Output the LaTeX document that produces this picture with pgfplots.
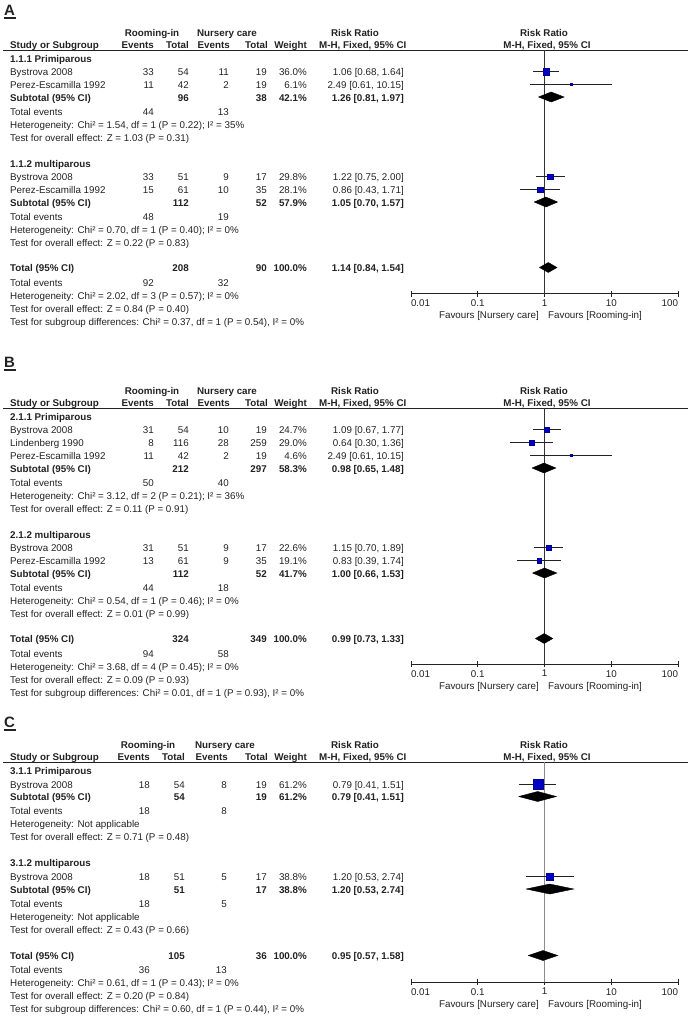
\documentclass[border=0pt]{standalone}
\usepackage{pgfplots}
\pgfplotsset{compat=1.18}
\usepackage{fontspec}
\setmainfont{Liberation Sans}
\definecolor{txt}{HTML}{222222}
\definecolor{sq}{HTML}{0000C4}
\newcommand\fs{\fontsize{9.8pt}{11pt}\selectfont}
\newcommand\TL[3]{\node[anchor=base west] at ({(#1)*1pt},{-(#2+4)*1pt}) {#3};}
\newcommand\TR[3]{\node[anchor=base east] at ({(#1)*1pt},{-(#2+4)*1pt}) {#3};}
\newcommand\TC[3]{\node[anchor=base] at ({(#1)*1pt},{-(#2+4)*1pt}) {#3};}
\def\cS{10}\def\cEa{154}\def\cTa{189}\def\cEb{229}\def\cTb{267}\def\cW{307}\def\cR{404}\def\cRm{152}\def\cNc{227}
\newcommand\Study[8]{\TL{\cS}{#1}{#2}\TR{\cEa}{#1}{#3}\TR{\cTa}{#1}{#4}\TR{\cEb}{#1}{#5}\TR{\cTb}{#1}{#6}\TR{\cW}{#1}{#7}\TR{\cR}{#1}{#8}}
\newcommand\Sub[6]{\TL{\cS}{#1}{\bfseries #2}\TR{\cTa}{#1}{\bfseries #3}\TR{\cTb}{#1}{\bfseries #4}\TR{\cW}{#1}{\bfseries #5}\TR{\cR}{#1}{\bfseries #6}}
\newcommand\TE[3]{\TL{\cS}{#1}{Total events}\TR{\cEa}{#1}{#2}\TR{\cEb}{#1}{#3}}
\newcommand\Head[1]{%
  \TC{\cRm}{#1-18}{\bfseries Rooming-in}\TC{\cNc}{#1-18}{\bfseries Nursery care}%
  \TC{355}{#1-18}{\bfseries Risk Ratio}\TC{544}{#1-18}{\bfseries Risk Ratio}%
  \TL{\cS}{#1-5.5}{\bfseries Study or Subgroup}\TR{\cEa}{#1-5.5}{\bfseries Events}%
  \TR{\cTa}{#1-5.5}{\bfseries Total}\TR{\cEb+1}{#1-5.5}{\bfseries Events}%
  \TR{\cTb+1}{#1-5.5}{\bfseries Total}\TR{\cW}{#1-5.5}{\bfseries Weight}%
  \TL{319}{#1-5.5}{\bfseries M-H, Fixed, 95\% CI}\TC{547}{#1-5.5}{\bfseries M-H, Fixed, 95\% CI}%
  \draw[txt, line width=0.8pt] (3pt,-#1pt) -- (688pt,-#1pt);}
\newcommand\Fav[1]{\node[anchor=base east] at (539pt,{-(#1+4)*1pt}) {Favours [Nursery care]};
  \node[anchor=base west] at (548pt,{-(#1+4)*1pt}) {Favours [Rooming-in]};}
\newcommand\Letter[2]{\node[anchor=base west, font=\fontsize{15pt}{17pt}\selectfont\bfseries] at (4pt,{-(#2+5.4)*1pt}) {#1};
  \draw[txt, line width=1.4pt] (4pt,{-(#2+8)*1pt}) -- (15.5pt,{-(#2+8)*1pt});}
\newcommand\Mk[5]{%
  \addplot[txt, line width=0.8pt] coordinates {(#3,-#1) (#4,-#1)};
  \addplot[only marks, mark=square*, mark size=#5pt, mark options={fill=sq, draw=sq!75!black, line width=0.3pt}] coordinates {(#2,-#1)};}
\newcommand\Dm[6]{%
  \addplot[fill=black, draw=black, line width=0.4pt] coordinates {(#2,-#5) (#1,-#4) (#3,-#5) (#1,-#6) (#2,-#5)};}
\pgfplotsset{every axis/.append style={
  scale only axis, width=267pt, xmode=log, xmin=0.01, xmax=100,
  axis x line=bottom, axis y line=none, x axis line style={-},
  axis line style={txt, line width=0.8pt},
  xtick={0.01,0.1,1,10,100},
  xticklabels={{\makebox[0pt][l]{0.01}},0.1,1,10,{\makebox[0pt][r]{100}}},
  xminorticks=false, tick align=center, major tick length=6pt,
  every tick/.style={txt, line width=0.8pt},
  xticklabel style={font=\fs, text=txt, anchor=north, inner sep=0pt, yshift=-3pt},
  clip=false, anchor=south west}}
\begin{document}
\begin{tikzpicture}[every node/.style={font=\fs, text=txt, inner sep=0pt}]
\useasboundingbox (0,0) rectangle (688pt,-1020pt);
% ================= A =================
\Letter{A}{10}
\Head{50}
\TL{\cS}{58}{\bfseries 1.1.1 Primiparous}
\Study{71.5}{Bystrova 2008}{33}{54}{11}{19}{36.0\%}{1.06 [0.68, 1.64]}
\Study{84.5}{Perez-Escamilla 1992}{11}{42}{2}{19}{6.1\%}{2.49 [0.61, 10.15]}
\Sub{97}{Subtotal (95\% CI)}{96}{38}{42.1\%}{1.26 [0.81, 1.97]}
\TE{111}{44}{13}
\TL{\cS}{124}{Heterogeneity: Chi² = 1.54, df = 1 (P = 0.22); I² = 35\%}
\TL{\cS}{137}{Test for overall effect: Z = 1.03 (P = 0.31)}
\TL{\cS}{163}{\bfseries 1.1.2 multiparous}
\Study{176.5}{Bystrova 2008}{33}{51}{9}{17}{29.8\%}{1.22 [0.75, 2.00]}
\Study{189.5}{Perez-Escamilla 1992}{15}{61}{10}{35}{28.1\%}{0.86 [0.43, 1.71]}
\Sub{202}{Subtotal (95\% CI)}{112}{52}{57.9\%}{1.05 [0.70, 1.57]}
\TE{216}{48}{19}
\TL{\cS}{229}{Heterogeneity: Chi² = 0.70, df = 1 (P = 0.40); I² = 0\%}
\TL{\cS}{242}{Test for overall effect: Z = 0.22 (P = 0.83)}
\Sub{267.5}{Total (95\% CI)}{208}{90}{100.0\%}{1.14 [0.84, 1.54]}
\TE{282}{92}{32}
\TL{\cS}{295}{Heterogeneity: Chi² = 2.02, df = 3 (P = 0.57); I² = 0\%}
\TL{\cS}{308}{Test for overall effect: Z = 0.84 (P = 0.40)}
\TL{\cS}{321}{Test for subgroup differences: Chi² = 0.37, df = 1 (P = 0.54), I² = 0\%}
\Fav{314.5}
\begin{axis}[at={(411pt,-293.5pt)}, height=243.5pt, ymin=-293.5, ymax=-50]
\addplot[black!80, line width=0.8pt] coordinates {(1,-50) (1,-293.5)};
\Mk{71.5}{1.06}{0.68}{1.64}{3.3}
\Mk{84.5}{2.49}{0.61}{10.15}{1.0}
\Dm{1.26}{0.81}{1.97}{92}{97}{102}
\Mk{176.5}{1.22}{0.75}{2.00}{2.7}
\Mk{189.5}{0.86}{0.43}{1.71}{2.6}
\Dm{1.05}{0.70}{1.57}{197}{202}{207}
\Dm{1.14}{0.84}{1.54}{262.5}{267.5}{272.5}
\end{axis}
% ================= B =================
\Letter{B}{362}
\Head{408}
\TL{\cS}{416}{\bfseries 2.1.1 Primiparous}
\Study{429.5}{Bystrova 2008}{31}{54}{10}{19}{24.7\%}{1.09 [0.67, 1.77]}
\Study{442.5}{Lindenberg 1990}{8}{116}{28}{259}{29.0\%}{0.64 [0.30, 1.36]}
\Study{455.5}{Perez-Escamilla 1992}{11}{42}{2}{19}{4.6\%}{2.49 [0.61, 10.15]}
\Sub{468}{Subtotal (95\% CI)}{212}{297}{58.3\%}{0.98 [0.65, 1.48]}
\TE{482}{50}{40}
\TL{\cS}{495}{Heterogeneity: Chi² = 3.12, df = 2 (P = 0.21); I² = 36\%}
\TL{\cS}{508}{Test for overall effect: Z = 0.11 (P = 0.91)}
\TL{\cS}{534}{\bfseries 2.1.2 multiparous}
\Study{547.5}{Bystrova 2008}{31}{51}{9}{17}{22.6\%}{1.15 [0.70, 1.89]}
\Study{560.5}{Perez-Escamilla 1992}{13}{61}{9}{35}{19.1\%}{0.83 [0.39, 1.74]}
\Sub{573}{Subtotal (95\% CI)}{112}{52}{41.7\%}{1.00 [0.66, 1.53]}
\TE{587}{44}{18}
\TL{\cS}{600}{Heterogeneity: Chi² = 0.54, df = 1 (P = 0.46); I² = 0\%}
\TL{\cS}{613}{Test for overall effect: Z = 0.01 (P = 0.99)}
\Sub{638.5}{Total (95\% CI)}{324}{349}{100.0\%}{0.99 [0.73, 1.33]}
\TE{653}{94}{58}
\TL{\cS}{666}{Heterogeneity: Chi² = 3.68, df = 4 (P = 0.45); I² = 0\%}
\TL{\cS}{679}{Test for overall effect: Z = 0.09 (P = 0.93)}
\TL{\cS}{692}{Test for subgroup differences: Chi² = 0.01, df = 1 (P = 0.93), I² = 0\%}
\Fav{685}
\begin{axis}[at={(411pt,-664pt)}, height=256pt, ymin=-664, ymax=-408]
\addplot[black!80, line width=0.8pt] coordinates {(1,-408) (1,-664)};
\Mk{429.5}{1.09}{0.67}{1.77}{2.5}
\Mk{442.5}{0.64}{0.30}{1.36}{2.7}
\Mk{455.5}{2.49}{0.61}{10.15}{1.0}
\Dm{0.98}{0.65}{1.48}{463}{468}{473}
\Mk{547.5}{1.15}{0.70}{1.89}{2.4}
\Mk{560.5}{0.83}{0.39}{1.74}{2.2}
\Dm{1.00}{0.66}{1.53}{568}{573}{578}
\Dm{0.99}{0.73}{1.33}{633.5}{638.5}{643.5}
\end{axis}
% ================= C =================
\def\cEa{150}\def\cTa{185}\def\cEb{227}\def\cRm{148}\def\cNc{225}
\Letter{C}{722}
\Head{762}
\TL{\cS}{770}{\bfseries 3.1.1 Primiparous}
\Study{784}{Bystrova 2008}{18}{54}{8}{19}{61.2\%}{0.79 [0.41, 1.51]}
\Sub{796.5}{Subtotal (95\% CI)}{54}{19}{61.2\%}{0.79 [0.41, 1.51]}
\TE{810.5}{18}{8}
\TL{\cS}{823.5}{Heterogeneity: Not applicable}
\TL{\cS}{836.5}{Test for overall effect: Z = 0.71 (P = 0.48)}
\TL{\cS}{862.5}{\bfseries 3.1.2 multiparous}
\Study{876.5}{Bystrova 2008}{18}{51}{5}{17}{38.8\%}{1.20 [0.53, 2.74]}
\Sub{889}{Subtotal (95\% CI)}{51}{17}{38.8\%}{1.20 [0.53, 2.74]}
\TE{903}{18}{5}
\TL{\cS}{916}{Heterogeneity: Not applicable}
\TL{\cS}{929}{Test for overall effect: Z = 0.43 (P = 0.66)}
\Sub{955.5}{Total (95\% CI)}{105}{36}{100.0\%}{0.95 [0.57, 1.58]}
\TE{969}{36}{13}
\TL{\cS}{982}{Heterogeneity: Chi² = 0.61, df = 1 (P = 0.43); I² = 0\%}
\TL{\cS}{995}{Test for overall effect: Z = 0.20 (P = 0.84)}
\TL{\cS}{1008}{Test for subgroup differences: Chi² = 0.60, df = 1 (P = 0.44), I² = 0\%}
\Fav{1003}
\begin{axis}[at={(411pt,-982pt)}, height=220pt, ymin=-982, ymax=-762]
\addplot[black!45, line width=0.8pt] coordinates {(1,-762) (1,-982)};
\Mk{784}{0.79}{0.41}{1.51}{5.0}
\Dm{0.79}{0.41}{1.51}{791.5}{796.5}{801.5}
\Mk{876.5}{1.20}{0.53}{2.74}{3.5}
\Dm{1.20}{0.53}{2.74}{884}{889}{894}
\Dm{0.95}{0.57}{1.58}{950.5}{955.5}{960.5}
\end{axis}
\end{tikzpicture}
\end{document}
